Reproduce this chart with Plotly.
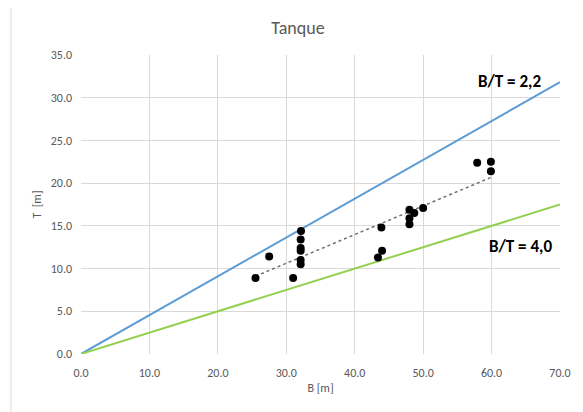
import numpy as np
import plotly.graph_objects as go

# Data
B_vals = [25.5, 27.5, 31.0, 32.15, 32.1, 32.1, 32.1, 32.1, 32.1,
          43.4, 44.0, 43.9, 48.0, 48.0, 48.0, 48.7, 50.0, 57.9, 59.9, 59.9]
T_vals = [8.9, 11.4, 8.9, 14.4, 13.4, 12.4, 12.1, 11.0, 10.5,
          11.3, 12.1, 14.8, 15.2, 15.9, 16.9, 16.5, 17.1, 22.4, 22.5, 21.4]

ratio_upper = 2.2
ratio_lower = 4.0
B_line = [0.0, 70.0]
label_upper = "B/T = 2,2"
label_lower = "B/T = 4,0"

x_ticks = [0, 10, 20, 30, 40, 50, 60, 70]
y_ticks = [0, 5, 10, 15, 20, 25, 30, 35]

FONT = "Carlito, Open Sans, sans-serif"
GRAY = "#595959"

fig = go.Figure()

fig.add_trace(go.Scatter(x=B_line, y=[b / ratio_upper for b in B_line], mode="lines",
                         line=dict(color="#5B9BD5", width=2), showlegend=False, hoverinfo="skip"))
fig.add_trace(go.Scatter(x=B_line, y=[b / ratio_lower for b in B_line], mode="lines",
                         line=dict(color="#92D050", width=2), showlegend=False, hoverinfo="skip"))

# linear trendline over the data
coef = np.polyfit(B_vals, T_vals, 1)
tx = [min(B_vals), max(B_vals)]
fig.add_trace(go.Scatter(x=tx, y=[coef[0] * v + coef[1] for v in tx], mode="lines",
                         line=dict(color="#6f6f6f", width=1.5, dash="dot"),
                         showlegend=False, hoverinfo="skip"))

fig.add_trace(go.Scatter(x=B_vals, y=T_vals, mode="markers",
                         marker=dict(color="black", size=8), showlegend=False))

fig.add_annotation(x=0.895, y=0.91, xref="paper", yref="paper", text="<b>" + label_upper + "</b>",
                   xanchor="center", yanchor="middle",
                   showarrow=False, font=dict(family=FONT, size=17, color="black"))
fig.add_annotation(x=0.918, y=0.358, xref="paper", yref="paper", text="<b>" + label_lower + "</b>",
                   xanchor="center", yanchor="middle",
                   showarrow=False, font=dict(family=FONT, size=17, color="black"))

# page body has an 8px margin, so offsets are shifted accordingly
OFF = 8
ml, mr, mt, mb = 81 - OFF, 31, 55 - OFF, 66
pw, ph = 583 - ml - mr, 412 - mt - mb
bx = (11 - 81) / pw
by = (354 - 5) / ph
fig.add_shape(type="line", xref="paper", yref="paper", x0=bx, x1=bx, y0=-0.5, y1=by,
              line=dict(color="#d9d9d9", width=1))
fig.add_shape(type="line", xref="paper", yref="paper", x0=bx, x1=1.2, y0=by, y1=by,
              line=dict(color="#d9d9d9", width=1))

fig.update_layout(
    width=583, height=412,
    margin=dict(l=ml, r=mr, t=mt, b=mb),
    paper_bgcolor="white", plot_bgcolor="white",
    title=dict(text="Tanque", x=(298 - OFF) / 583, xanchor="center",
               y=1 - (28 - OFF) / 412, yanchor="middle",
               font=dict(family=FONT, size=18, color=GRAY)),
    font=dict(family=FONT, color=GRAY),
)
fig.update_xaxes(range=[0, 70], tickvals=x_ticks, tickformat=".1f",
                 showgrid=True, gridcolor="#d9d9d9", gridwidth=1,
                 zeroline=False, showline=False, ticks="", ticklabelstandoff=10,
                 tickfont=dict(family=FONT, size=12, color=GRAY),
                 title=dict(text="B [m]", font=dict(family=FONT, size=12, color=GRAY), standoff=4))
fig.update_yaxes(range=[0, 35], tickvals=y_ticks, tickformat=".1f",
                 showgrid=True, gridcolor="#d9d9d9", gridwidth=1,
                 zeroline=False, showline=False, ticks="", ticklabelstandoff=8,
                 tickfont=dict(family=FONT, size=12, color=GRAY),
                 title=dict(text="T  [m]", font=dict(family=FONT, size=12, color=GRAY), standoff=6))

fig.write_html("out.html")
